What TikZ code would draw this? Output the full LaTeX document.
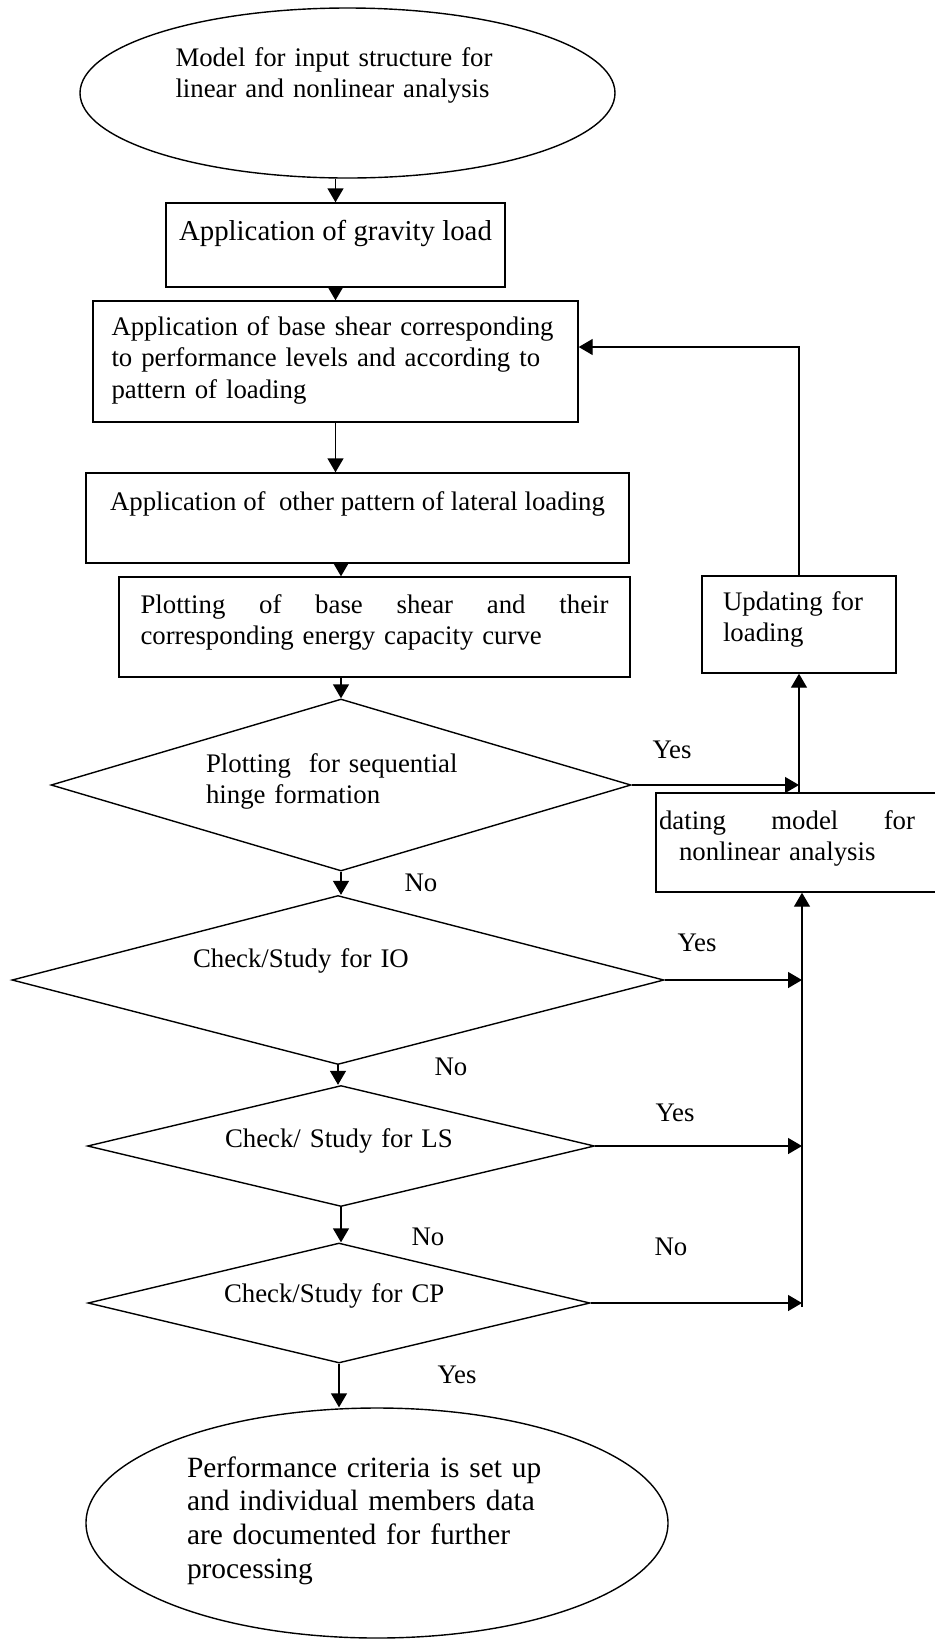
\documentclass[tikz,border=0pt]{standalone}
\usepackage{fontspec}
\setmainfont{Liberation Serif}
\usetikzlibrary{arrows.meta,shapes.geometric}
\tikzset{>/.tip={Triangle[length=7pt,width=8pt]}}

\begin{document}
\begin{tikzpicture}[x=0.5pt,y=-0.5pt,line width=0.7pt,
  every node/.style={font=\fontsize{13.4pt}{15.9pt}\selectfont, inner sep=0pt},
  stage/.style={draw,rectangle,align=left},
  check/.style={draw,diamond,align=left},
  term/.style={draw,ellipse,align=left}]
\useasboundingbox (0,0) rectangle (935,1640);
\node[term, minimum width=267.5pt, minimum height=85pt, text width=172pt, text height=12pt, text depth=39pt] (top) at (347.5,93) {Model for input structure for\\linear and nonlinear analysis};
\node[stage, minimum width=169.5pt, minimum height=42pt, text height=10pt, text depth=15pt, font=\fontsize{14.4pt}{17pt}\selectfont] (grav) at (335.5,245) {Application of gravity load};
\node[stage, minimum width=242.5pt, minimum height=60.5pt, text width=224pt, text height=10pt, text depth=36.5pt] (shear) at (335.5,361.5) {Application of base shear corresponding\\to performance levels and according to\\pattern of loading};
\node[stage, minimum width=271.5pt, minimum height=45pt, text height=10pt, text depth=18pt] (lat) at (357.5,518) {Application of\ \ other pattern of lateral loading};
\node[stage, minimum width=255.5pt, minimum height=50pt, text width=234pt, text height=10pt, text depth=24pt] (plot) at (374.5,627) {\makebox[234pt][s]{Plotting\hfill of\hfill base\hfill shear\hfill and\hfill their}\\corresponding energy capacity curve};
\node[check, aspect=3.37, minimum width=290pt, minimum height=86pt, text width=135pt, text height=10pt, text depth=23pt] (d1) at (341,785) {Plotting\ \ for sequential\\hinge formation};
\node[check, aspect=3.86, minimum width=326pt, minimum height=84.5pt, text width=145pt, text height=10pt, text depth=23pt] (d2) at (338,980) {Check/Study for IO};
\node[check, aspect=4.19, minimum width=253.5pt, minimum height=60.5pt, text width=116pt, text height=9pt, text depth=8pt] (d3) at (341,1146) {Check/ Study for LS};
\node[check, aspect=4.18, minimum width=251pt, minimum height=60pt, text width=115pt, text height=8.5pt, text depth=9.5pt] (d4) at (339,1303) {Check/Study for CP};
\node[term, minimum width=291pt, minimum height=115pt, text width=190pt, text height=10pt, text depth=56pt, font=\fontsize{14.7pt}{16.9pt}\selectfont] (fin) at (377,1523) {Performance criteria is set up\\and individual members data\\are documented for further\\processing};
\node[stage, minimum width=97pt, minimum height=48.5pt, text width=76pt, text height=10pt, text depth=24.5pt] (upl) at (799,624.5) {Updating for\\loading};
\node[stage, minimum width=152pt, minimum height=49.5pt, text width=149pt, text height=10pt, text depth=23.5pt] (upm) at (808,842.5) {\makebox[128pt][s]{dating\hfill model\hfill for}\\\hspace*{10pt}nonlinear analysis};
\node (y1) at (672,750) {Yes};
\node (n1) at (421,883) {No};
\node (y2) at (697,943) {Yes};
\node (n2) at (451,1067) {No};
\node (y3) at (675,1113) {Yes};
\node (n3) at (428,1237) {No};
\node (n4) at (671,1247) {No};
\node (y4) at (457,1375) {Yes};
\coordinate (bus) at (802,1307);
% main line
\draw[->] (top.south -| grav.north) -- (grav.north);
\draw[->] (grav) -- (shear);
\draw[->] (shear.south) -- (shear.south |- lat.north);
\draw[->] (d1.north |- lat.south) -- (d1.north |- plot.north);
\draw[->] (d1.north |- plot.south) -- (d1.north);
\draw[->] (d1.south) -- (d1.south |- d2.north);
\draw[->] (d2.south) -- (d2.south |- d3.north);
\draw[->] (d3.south) -- (d3.south |- d4.north);
\draw[->] (d4.south) -- (d4.south |- fin.north);
% right side
\draw[->] (d1.east) -- (d1.east -| upl.south);
\draw[->] (upl.south |- upm.north) -- (upl.south);
\draw[->] (bus) -- (bus |- upm.south);
\foreach \d in {d2,d3,d4}
{
  \draw[->] (\d.east) -- (\d.east -| bus);
}
\draw[->] (upl.north) |- ([yshift=7.25pt]shear.east);
\end{tikzpicture}
\end{document}
